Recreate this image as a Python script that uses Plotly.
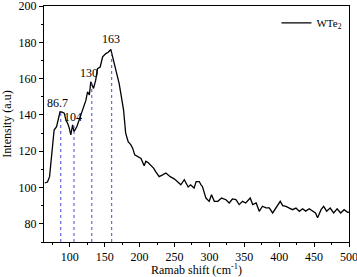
import plotly.graph_objects as go

# Raman spectrum of WTe2
shift = [64, 68, 71, 74, 77.5, 81, 83.5, 86, 89, 92, 94.5, 96.7, 99, 101.4, 104, 106, 110, 113, 118, 123,
         125.4, 128, 130, 134, 137, 139.7, 143.5, 147, 151.6, 155, 158.8, 161, 163.5, 167, 170.7, 173,
         177, 180, 183.6, 187.5, 190, 193, 197, 202, 206.5, 209, 212, 216, 220, 223, 228, 233, 237.6,
         243.8, 249.5, 254, 259, 264, 269.6, 273, 278, 281, 285.4, 288, 290, 295, 299.7, 303, 307, 312,
         317.5, 323.7, 328.4, 333, 338, 342.7, 347.5, 352, 358.5, 362, 367, 371.4, 376, 381, 385.7,
         390.6, 395, 401.5, 405, 409.7, 414.5, 419, 424, 428.8, 433.5, 438, 443, 448, 452, 455, 460,
         463.7, 468, 473, 478, 483, 488, 493, 498, 500]
intensity = [102.5, 103, 106, 118, 131.7, 133.5, 138, 141.7, 141.5, 141, 137, 135.5, 133, 129, 134.5,
             130.8, 133.5, 137, 142.7, 148, 152.7, 151, 158.2, 154.6, 159, 165.5, 166.4, 172, 173.8,
             174.5, 176, 172.8, 169, 163, 157.3, 152, 142.7, 130, 125.3, 123.5, 121.7, 118, 117, 116,
             112, 114.5, 113.8, 112.5, 110.7, 108.8, 106, 107, 108, 106, 104.8, 103.3, 101.5, 104.3,
             100.3, 101.5, 99.7, 103.3, 103.3, 101.5, 100.6, 94.2, 92.4, 96, 92.4, 92.4, 94.2, 93.3,
             91.5, 93.7, 93.3, 90.6, 92.4, 91.5, 94.2, 90.6, 91.5, 86.9, 89.7, 88.8, 88.8, 86, 88.8,
             92.4, 90, 89.6, 88.7, 87.8, 88.7, 86.9, 88.3, 87, 88.3, 87, 86, 83.3, 87.8, 89.6, 87,
             88.7, 86, 88.3, 86, 87.8, 86.4, 86.5]

# Peak markers
peak_pos = [87, 106, 131.5, 160]
peak_top = [142, 134, 158, 176]
peak_labels = ["86.7", "104", "130", "163"]
label_x = [83, 105, 127, 159]
label_y = [146.5, 139, 163, 182]

FONT = "Liberation Serif"

fig = go.Figure()
fig.add_trace(go.Scatter(x=shift, y=intensity, mode="lines", name="WTe<sub>2</sub>",
                         line=dict(color="black", width=1.3)))

for px, py in zip(peak_pos, peak_top):
    fig.add_trace(go.Scatter(x=[px, px], y=[70, py], mode="lines", showlegend=False,
                             line=dict(color="#4a4ad0", width=1, dash="dot"), hoverinfo="skip"))

for lx, ly, t in zip(label_x, label_y, peak_labels):
    fig.add_annotation(x=lx, y=ly, text=t, showarrow=False,
                       font=dict(family=FONT, size=12, color="black"))

fig.update_layout(
    width=357, height=277,
    margin=dict(l=44, r=8, t=6, b=35, autoexpand=False),
    paper_bgcolor="white", plot_bgcolor="white",
    font=dict(family=FONT, size=12, color="black"),
    showlegend=True,
    legend=dict(x=0.995, y=0.99, xanchor="right", yanchor="top", bgcolor="rgba(0,0,0,0)",
                font=dict(family=FONT, size=11), itemwidth=30),
)
fig.update_xaxes(range=[63, 500], tickmode="array", tickvals=[100, 150, 200, 250, 300, 350, 400, 450, 500],
                 ticks="outside", ticklen=4, tickwidth=1, tickcolor="black", automargin=False,
                 ticklabeloverflow="allow",
                 minor=dict(dtick=25, tick0=0, ticks="outside", ticklen=2, tickcolor="black"),
                 showline=True, linecolor="black", linewidth=1, mirror=True, showgrid=False, zeroline=False,
                 title=dict(text="Ramab shift (cm<sup>-1</sup>)", font=dict(family=FONT, size=12), standoff=3),
                 tickfont=dict(family=FONT, size=12))
fig.update_yaxes(range=[70, 200], tickmode="array", tickvals=[80, 100, 120, 140, 160, 180, 200],
                 ticks="outside", ticklen=4, tickwidth=1, tickcolor="black", automargin=False,
                 ticklabeloverflow="allow",
                 minor=dict(dtick=10, tick0=0, ticks="outside", ticklen=2, tickcolor="black"),
                 showline=True, linecolor="black", linewidth=1, mirror=True, showgrid=False, zeroline=False,
                 title=dict(text="Intensity (a.u)", font=dict(family=FONT, size=12), standoff=4),
                 tickfont=dict(family=FONT, size=12))

fig.write_html("out.html", config={"displayModeBar": False},
               post_script="document.body.style.margin='0px';document.body.style.overflow='hidden';")
